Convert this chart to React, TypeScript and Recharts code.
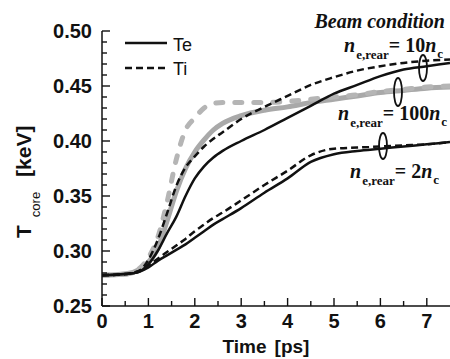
import React from 'react';
import { LineChart, Line, XAxis, YAxis } from 'recharts';

// time axis [ps]
const time = [0, 0.5, 0.8, 1.0, 1.2, 1.4, 1.6, 1.8, 2.0, 2.2, 2.4, 2.6, 3.0, 3.5, 4.0, 4.5, 5.0, 5.5, 6.0, 6.5, 7.0, 7.5];

// n_e,rear = 2 n_c
const te2 = [0.278, 0.279, 0.281, 0.285, 0.291, 0.296, 0.301, 0.306, 0.312, 0.318, 0.324, 0.329, 0.339, 0.353, 0.366, 0.381, 0.388, 0.391, 0.393, 0.395, 0.397, 0.399];
const ti2 = [0.278, 0.279, 0.282, 0.287, 0.293, 0.299, 0.305, 0.311, 0.318, 0.324, 0.330, 0.335, 0.346, 0.360, 0.373, 0.387, 0.393, 0.394, 0.395, 0.396, 0.397, 0.399];

// n_e,rear = 10 n_c
const te10 = [0.278, 0.279, 0.281, 0.288, 0.300, 0.316, 0.331, 0.350, 0.366, 0.377, 0.385, 0.391, 0.400, 0.410, 0.421, 0.432, 0.443, 0.451, 0.459, 0.465, 0.468, 0.471];
const ti10 = [0.278, 0.279, 0.282, 0.292, 0.310, 0.334, 0.359, 0.376, 0.386, 0.395, 0.402, 0.408, 0.420, 0.431, 0.441, 0.451, 0.458, 0.464, 0.468, 0.471, 0.473, 0.474];

// n_e,rear = 100 n_c
const te100 = [0.278, 0.279, 0.283, 0.290, 0.302, 0.327, 0.354, 0.375, 0.390, 0.401, 0.410, 0.416, 0.423, 0.428, 0.431, 0.435, 0.438, 0.441, 0.444, 0.446, 0.448, 0.449];
const ti100 = [0.278, 0.279, 0.284, 0.294, 0.312, 0.344, 0.383, 0.410, 0.421, 0.430, 0.434, 0.435, 0.435, 0.435, 0.436, 0.438, 0.440, 0.442, 0.445, 0.447, 0.449, 0.450];

const xTicks = [0, 0.5, 1, 1.5, 2, 2.5, 3, 3.5, 4, 4.5, 5, 5.5, 6, 6.5, 7];
const yTicks = [
  0.25, 0.26, 0.27, 0.28, 0.29, 0.30, 0.31, 0.32, 0.33, 0.34, 0.35, 0.36, 0.37,
  0.38, 0.39, 0.40, 0.41, 0.42, 0.43, 0.44, 0.45, 0.46, 0.47, 0.48, 0.49, 0.50,
];

const data = time.map((t, i) => ({
  t,
  te2: te2[i], ti2: ti2[i],
  te10: te10[i], ti10: ti10[i],
  te100: te100[i], ti100: ti100[i],
}));

const SANS = '"Liberation Sans", Arial, sans-serif';
const SERIF = '"Liberation Serif", "Times New Roman", serif';

function XTick({ x, y, payload }: any) {
  const v = payload.value;
  const major = Math.abs(v - Math.round(v)) < 1e-6;
  return (
    <g>
      <line x1={x} x2={x} y1={y} y2={y - (major ? 8 : 5)} stroke="#111" strokeWidth={1.4} />
      {major && (
        <text x={x} y={y + 22} textAnchor="middle" fontFamily={SANS} fontWeight="bold" fontSize={20} fill="#111">
          {v}
        </text>
      )}
    </g>
  );
}

function YTick({ x, y, payload }: any) {
  const v = payload.value;
  const major = Math.abs(v * 20 - Math.round(v * 20)) < 1e-6;
  return (
    <g>
      <line x1={x} x2={x + (major ? 8 : 5)} y1={y} y2={y} stroke="#111" strokeWidth={1.4} />
      {major && (
        <text x={x - 10} y={y + 7} textAnchor="end" fontFamily={SANS} fontWeight="bold" fontSize={20} fill="#111">
          {v.toFixed(2)}
        </text>
      )}
    </g>
  );
}

function Density({ x, y, value }: { x: number; y: number; value: string }) {
  return (
    <text x={x} y={y} fontFamily={SERIF} fontWeight="bold" fontSize={20} fill="#111">
      <tspan fontStyle="italic">n</tspan>
      <tspan fontSize={13} dx={1} dy={7}>e,rear</tspan>
      <tspan dy={-7}>= {value}</tspan>
      <tspan fontStyle="italic">n</tspan>
      <tspan fontSize={13} dx={1} dy={6}>c</tspan>
    </text>
  );
}

export default function App() {
  return (
    <div style={{ position: 'absolute', left: 0, top: 0, width: 450, height: 359, background: '#fff' }}>
      <LineChart width={450} height={359} data={data} margin={{ top: 31, right: 0, bottom: 23, left: 42 }}>
        <XAxis
          dataKey="t"
          type="number"
          domain={[0, 7.5]}
          ticks={xTicks}
          interval={0}
          height={30}
          tickSize={0}
          tickMargin={0}
          tickLine={false}
          tick={<XTick />}
          axisLine={{ stroke: '#111', strokeWidth: 1.5 }}
          allowDataOverflow
        />
        <YAxis
          type="number"
          domain={[0.25, 0.5]}
          ticks={yTicks}
          interval={0}
          width={60}
          tickSize={0}
          tickMargin={0}
          tickLine={false}
          tick={<YTick />}
          axisLine={{ stroke: '#111', strokeWidth: 1.5 }}
          allowDataOverflow
        />
        <Line dataKey="te100" type="monotone" stroke="#a9a9a9" strokeWidth={5} dot={false} isAnimationActive={false} />
        <Line dataKey="ti100" type="monotone" stroke="#b5b5b5" strokeWidth={5} strokeDasharray="7 12" strokeLinecap="round" dot={false} isAnimationActive={false} />
        <Line dataKey="te2" type="monotone" stroke="#111" strokeWidth={2.5} dot={false} isAnimationActive={false} />
        <Line dataKey="ti2" type="monotone" stroke="#111" strokeWidth={2.5} strokeDasharray="7 4" dot={false} isAnimationActive={false} />
        <Line dataKey="te10" type="monotone" stroke="#111" strokeWidth={2.5} dot={false} isAnimationActive={false} />
        <Line dataKey="ti10" type="monotone" stroke="#111" strokeWidth={2.5} strokeDasharray="7 4" dot={false} isAnimationActive={false} />
      </LineChart>

      <svg width={450} height={359} style={{ position: 'absolute', left: 0, top: 0, pointerEvents: 'none' }}>
        {/* legend */}
        <line x1={125} x2={167} y1={43} y2={43} stroke="#111" strokeWidth={2.5} />
        <text x={173} y={51} fontFamily={SANS} fontSize={18} fill="#111">Te</text>
        <line x1={125} x2={165} y1={68} y2={68} stroke="#111" strokeWidth={2.5} strokeDasharray="7 4" />
        <text x={173} y={75} fontFamily={SANS} fontSize={18} fill="#111">Ti</text>

        {/* axis titles */}
        <text x={266} y={353} textAnchor="middle" fontFamily={SANS} fontWeight="bold" fontSize={19} fill="#111">
          Time<tspan dx={8}>[ps]</tspan>
        </text>
        <text transform="rotate(-90)" x={-238} y={31} fontFamily={SANS} fontWeight="bold" fontSize={21} fill="#111">
          T<tspan dx={8} dy={9} fontSize={13} fontWeight="normal">core</tspan>
          <tspan dx={15} dy={-9}>[keV]</tspan>
        </text>

        {/* beam condition annotations */}
        <text x={445} y={28} textAnchor="end" fontFamily={SERIF} fontWeight="bold" fontStyle="italic" fontSize={20} fill="#111">
          Beam condition
        </text>
        <Density x={344} y={52} value="10" />
        <Density x={338} y={120} value="100" />
        <Density x={350} y={178} value="2" />
        <ellipse cx={423} cy={68} rx={4} ry={13} fill="none" stroke="#111" strokeWidth={1.8} />
        <ellipse cx={398} cy={92} rx={4} ry={14} fill="none" stroke="#111" strokeWidth={1.8} />
        <ellipse cx={383} cy={146} rx={4} ry={13} fill="none" stroke="#111" strokeWidth={1.8} />
      </svg>
    </div>
  );
}
